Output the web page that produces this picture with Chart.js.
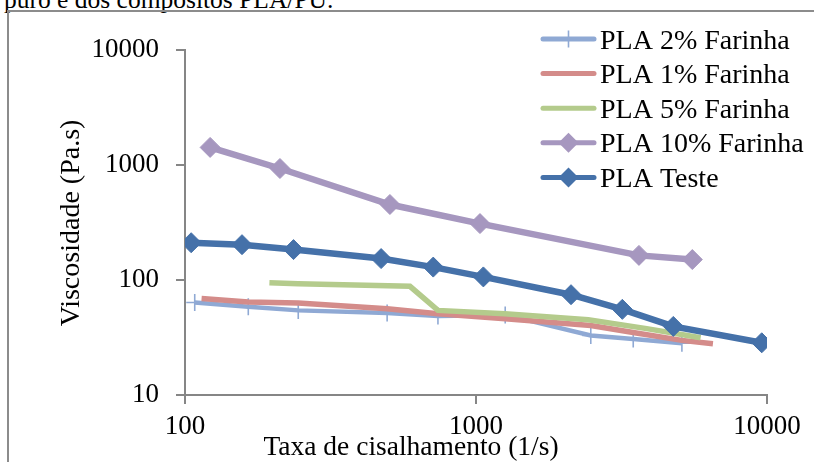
<!DOCTYPE html>
<html>
<head>
<meta charset="utf-8">
<script src="https://cdn.jsdelivr.net/npm/chart.js@4.4.1/dist/chart.umd.min.js"></script>
<style>
  html, body { margin: 0; padding: 0; width: 814px; height: 462px; overflow: hidden; background: #fff; }
  #caption { position: absolute; left: 4px; top: -13px; font: 25.5px/1 "Liberation Serif", "Times New Roman", serif; color: #000; white-space: nowrap; }
  #frame { position: absolute; left: 7px; top: 10px; width: 900px; height: 600px; border: 2px solid #8c8c8c; box-sizing: border-box; }
  #wrap { position: absolute; left: 0; top: 0; width: 814px; height: 462px; }
</style>
</head>
<body>
<div id="caption">puro e dos compósitos PLA/PU.</div>
<div id="frame"></div>
<div id="wrap"><canvas id="chart" width="814" height="462"></canvas></div>
<script>
// Shear rate (1/s) and viscosity (Pa.s) for each formulation
const seriesNames = ['PLA 2% Farinha', 'PLA 1% Farinha', 'PLA 5% Farinha', 'PLA 10% Farinha', 'PLA Teste'];

const shear2 = [108, 165, 245, 495, 740, 1260, 2480, 3470, 5100];
const visc2  = [63.5, 58.5, 54.3, 51.6, 48.6, 49.6, 32.9, 30.6, 28.1];

const shear1 = [114, 165, 245, 495, 740, 1260, 2480, 3470, 5100, 6520];
const visc1  = [68.8, 64.1, 62.8, 56.2, 50.8, 46.0, 40.2, 34.9, 29.8, 27.9];

const shear5 = [195, 245, 593, 740, 1258, 2431, 3861, 5916];
const visc5  = [94.4, 92.3, 87.8, 54.3, 50.8, 45.1, 37.7, 31.4];

const shear10 = [122, 212, 506, 1032, 3631, 5537];
const visc10  = [1412, 926, 451, 308, 163, 150];

const shearT = [105, 157, 236, 472, 713, 1060, 2121, 3183, 4764, 9592];
const viscT  = [210, 202, 183, 153, 129, 106, 74.3, 55.4, 39.4, 28.4];

const xTicks = [100, 1000, 10000];
const yTicks = [10, 100, 1000, 10000];

const xTitle = 'Taxa de cisalhamento (1/s)';
const yTitle = 'Viscosidade (Pa.s)';

const colors = ['#8FA9D4', '#D48C8A', '#B4CB8C', '#A697BF', '#4571A9'];
const widths = [4.5, 5.5, 5.5, 6.5, 6.5];
const markers = ['cross', false, false, 'rectRot', 'rectRot'];

function pts(xs, ys) { return xs.map((x, i) => ({ x: x, y: ys[i] })); }

const seriesData = [pts(shear2, visc2), pts(shear1, visc1), pts(shear5, visc5), pts(shear10, visc10), pts(shearT, viscT)];

const FONT = '"Liberation Serif", "Times New Roman", serif';
const AXIS = '#868686';

const datasets = seriesData.map((d, i) => ({
  label: seriesNames[i],
  data: d,
  borderColor: colors[i],
  backgroundColor: colors[i],
  borderWidth: widths[i],
  pointStyle: markers[i] || 'circle',
  pointRadius: markers[i] === 'cross' ? 8.5 : (markers[i] ? 10 : 0),
  pointBorderWidth: markers[i] === 'cross' ? 1.6 : 1,
  pointBorderColor: colors[i],
  pointBackgroundColor: colors[i],
  pointHoverRadius: 0,
  tension: 0,
  order: seriesNames.length - i
}));

function markerPath(ctx, style, x, y, r) {
  ctx.beginPath();
  if (style === 'rectRot') {
    ctx.moveTo(x, y - r); ctx.lineTo(x + r, y); ctx.lineTo(x, y + r); ctx.lineTo(x - r, y); ctx.closePath();
  } else if (style === 'cross') {
    ctx.moveTo(x, y - r); ctx.lineTo(x, y + r);
    ctx.moveTo(x - r, y); ctx.lineTo(x + r, y);
  }
}

// Legend inside the plot and both axis titles
const annotations = {
  id: 'annotations',
  afterDraw(chart) {
    const ctx = chart.ctx;
    ctx.save();
    ctx.fillStyle = '#000';

    // legend
    ctx.font = '28px ' + FONT;
    seriesNames.forEach((name, i) => {
      const cy = 39 + i * 34.6;
      ctx.strokeStyle = colors[i];
      ctx.lineWidth = 5;
      ctx.lineCap = 'round';
      ctx.beginPath(); ctx.moveTo(543, cy); ctx.lineTo(594, cy); ctx.stroke();
      if (markers[i] === 'rectRot') {
        markerPath(ctx, 'rectRot', 568.5, cy, 10);
        ctx.fillStyle = colors[i]; ctx.fill();
      } else if (markers[i] === 'cross') {
        ctx.lineWidth = 1.6; ctx.lineCap = 'butt';
        markerPath(ctx, 'cross', 568.5, cy, 8.5); ctx.stroke();
      }
      ctx.fillStyle = '#000';
      ctx.textAlign = 'left';
      ctx.textBaseline = 'alphabetic';
      ctx.fillText(name, 600, cy + 9.5);
    });

    // x axis title
    ctx.font = '27.5px ' + FONT;
    ctx.textAlign = 'center';
    ctx.textBaseline = 'alphabetic';
    ctx.fillText(xTitle, 411, 455);

    // y axis title
    ctx.font = '28px ' + FONT;
    ctx.translate(79, 223);
    ctx.rotate(-Math.PI / 2);
    ctx.fillText(yTitle, 0, 0);
    ctx.restore();
  }
};

const tickFont = { family: FONT, size: 27 };

new Chart(document.getElementById('chart'), {
  type: 'line',
  data: { datasets: datasets },
  options: {
    responsive: false,
    animation: false,
    devicePixelRatio: 1,
    layout: { padding: { left: 0, top: 49.5, right: 47, bottom: 0 } },
    plugins: { legend: { display: false }, tooltip: { enabled: false } },
    scales: {
      x: {
        type: 'logarithmic',
        min: 100, max: 10000,
        afterBuildTicks: s => { s.ticks = xTicks.map(v => ({ value: v })); },
        afterFit: s => { s.height = 67; },
        grid: { drawOnChartArea: false, drawTicks: true, tickLength: 9, color: AXIS, lineWidth: 2 },
        border: { color: AXIS, width: 2 },
        ticks: { font: tickFont, color: '#000', padding: 7, maxRotation: 0, autoSkip: false, callback: v => String(v) }
      },
      y: {
        type: 'logarithmic',
        min: 10, max: 10000,
        afterBuildTicks: s => { s.ticks = yTicks.map(v => ({ value: v })); },
        afterFit: s => { s.width = 185; },
        grid: { drawOnChartArea: false, drawTicks: true, tickLength: 9, color: AXIS, lineWidth: 2 },
        border: { color: AXIS, width: 2 },
        ticks: { font: tickFont, color: '#000', padding: 17, autoSkip: false, callback: v => String(v) }
      }
    }
  },
  plugins: [annotations]
});
</script>
</body>
</html>
